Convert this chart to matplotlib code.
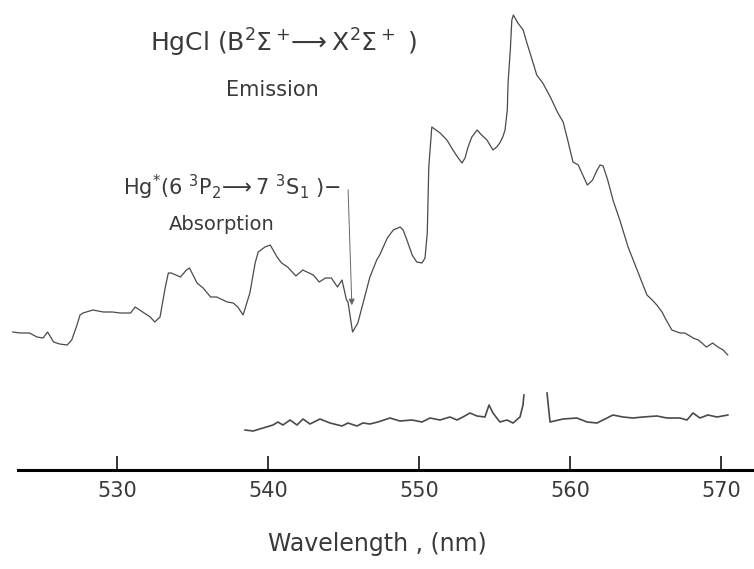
import matplotlib
matplotlib.use('Agg')
import matplotlib.pyplot as plt
import numpy as np

# HgCl B-X emission trace (wavelength nm, intensity arb. units)
em_wl = [523.1, 523.6, 524.2, 524.7, 525.1, 525.4, 525.8, 526.2, 526.7, 527.0,
         527.35, 527.55, 527.75, 528.4, 529.1, 529.7, 530.2, 530.9, 531.2, 531.7,
         532.2, 532.5, 532.85, 533.2, 533.4, 533.6, 534.2, 534.6, 534.8, 535.3,
         535.7, 536.2, 536.6, 537.3, 537.7, 538.0, 538.35, 538.8, 539.15, 539.35,
         539.8, 540.15, 540.6, 540.9, 541.3, 541.85, 542.3, 543.0, 543.4, 543.8,
         544.2, 544.6, 544.9, 545.2, 545.3, 545.6, 545.95, 546.3, 546.75, 547.2,
         547.4, 547.9, 548.3, 548.75, 548.95, 549.2, 549.55, 549.85, 550.2, 550.4,
         550.55, 550.65, 550.85, 551.4, 551.85, 552.25, 552.6, 552.85, 553.05, 553.25,
         553.5, 553.85, 554.15, 554.5, 554.7, 554.9, 555.15, 555.35, 555.55, 555.7,
         555.85, 555.9, 556.05, 556.15, 556.25, 556.55, 556.9, 557.15, 557.5, 557.8,
         558.2, 558.7, 559.2, 559.55, 559.85, 560.2, 560.55, 560.85, 561.15, 561.3,
         561.5, 561.8, 562.0, 562.2, 562.5, 562.85, 563.3, 563.85, 564.45, 565.1,
         565.45, 565.75, 566.1, 566.3, 566.75, 567.1, 567.3, 567.6, 567.95, 568.15,
         568.5, 568.75, 568.95, 569.05, 569.25, 569.45, 569.8, 570.15, 570.45]
em_int = [13.8, 13.7, 13.7, 13.3, 13.2, 13.8, 12.8, 12.6, 12.5, 13.0,
          14.5, 15.5, 15.7, 16.0, 15.8, 15.8, 15.7, 15.7, 16.3, 15.8,
          15.3, 14.8, 15.3, 18.3, 19.7, 19.7, 19.3, 20.0, 20.2, 18.7,
          18.2, 17.3, 17.3, 16.8, 16.7, 16.3, 15.5, 17.7, 20.7, 21.8,
          22.3, 22.5, 21.3, 20.7, 20.3, 19.4, 20.0, 19.5, 18.8, 19.2,
          19.2, 18.3, 19.0, 17.0, 16.8, 13.8, 14.7, 16.7, 19.3, 21.0,
          21.5, 23.2, 24.0, 24.3, 24.0, 23.0, 21.5, 20.8, 20.7, 21.2,
          23.7, 30.3, 34.3, 33.7, 33.0, 32.0, 31.2, 30.7, 31.2, 32.3,
          33.3, 34.0, 33.5, 33.0, 32.5, 32.0, 32.3, 32.7, 33.3, 34.0,
          36.0, 38.7, 42.0, 45.0, 45.5, 44.7, 44.0, 42.7, 41.0, 39.5,
          38.7, 37.3, 35.7, 34.8, 33.0, 30.8, 30.5, 29.5, 28.5, 28.7,
          29.0, 30.0, 30.5, 30.4, 29.0, 27.0, 25.0, 22.3, 20.0, 17.5,
          17.0, 16.5, 15.8, 15.2, 14.0, 13.8, 13.7, 13.7, 13.4, 13.2,
          13.0, 12.7, 12.4, 12.3, 12.5, 12.7, 12.3, 12.0, 11.5]

# lower trace, left part (up to the gap) and right part
bl1_wl = [538.48, 539.01, 539.67, 540.33, 540.66, 540.99, 541.46, 541.92, 542.32, 542.78,
          543.44, 544.11, 544.90, 545.30, 545.89, 546.29, 546.75, 547.28, 548.08, 548.74,
          549.54, 550.20, 550.73, 551.39, 552.05, 552.52, 552.91, 553.38, 553.84, 554.37,
          554.64, 554.90, 555.36, 555.83, 556.23, 556.69, 556.89, 556.95]
bl1_int = [4.0, 3.9, 4.2, 4.5, 4.8, 4.5, 5.0, 4.5, 5.1, 4.6,
           5.1, 4.7, 4.4, 4.7, 4.4, 4.7, 4.6, 4.8, 5.2, 4.9,
           5.0, 4.8, 5.2, 5.0, 5.3, 5.0, 5.3, 5.7, 5.4, 5.3,
           6.5, 5.7, 4.8, 5.0, 4.7, 5.3, 6.5, 7.5]
bl2_wl = [558.48, 558.68, 559.54, 560.46, 561.13, 561.79, 562.19, 562.85, 563.51, 564.17,
          564.83, 565.76, 566.42, 567.28, 567.75, 568.15, 568.61, 569.14, 569.74, 570.46]
bl2_int = [7.7, 4.8, 5.1, 5.2, 4.8, 4.7, 5.0, 5.5, 5.3, 5.2,
           5.3, 5.4, 5.2, 5.2, 5.0, 5.7, 5.2, 5.5, 5.3, 5.5]

ticks = [530, 540, 550, 560, 570]

ink = '#4a4a4a'
txt = '#3a3a3a'

fig = plt.figure(figsize=(7.54, 5.69), dpi=100)
ax = fig.add_axes([0, 0, 1, 1])

ax.plot(em_wl, em_int, color=ink, lw=0.9)
ax.plot(bl1_wl, bl1_int, color=ink, lw=1.2)
ax.plot(bl2_wl, bl2_int, color=ink, lw=1.2)

ax.set_xlim(522.25, 572.19)
ax.set_ylim(-9.9, 47.0)

for s in ['left', 'right', 'top']:
    ax.spines[s].set_visible(False)
ax.spines['bottom'].set_position(('data', 0))
ax.spines['bottom'].set_linewidth(2.2)
ax.spines['bottom'].set_bounds(523.44, 572.19)
ax.set_yticks([])
ax.set_xticks(ticks)
ax.set_xticklabels([str(t) for t in ticks])
ax.tick_params(axis='x', direction='in', length=10, width=1.1, pad=8,
               labelsize=15, labelcolor=txt)
ax.set_xlabel('Wavelength , (nm)', fontsize=17, color=txt, labelpad=22)

ax.text(541.0, 42.7, r'HgCl (B$^2\Sigma^+\!\!\longrightarrow$X$^2\Sigma^+$ )',
        fontsize=18, color=txt, ha='center', va='center')
ax.text(540.26, 38.0, 'Emission', fontsize=15, color=txt, ha='center', va='center')
ax.text(537.6, 28.3, r'Hg$^{*}$(6 $^3$P$_2\!\longrightarrow$7 $^3$S$_1$ )$-$',
        fontsize=15, color=txt, ha='center', va='center')
ax.text(536.95, 24.5, 'Absorption', fontsize=14, color=txt, ha='center', va='center')

ax.annotate('', xy=(545.56, 16.2), xytext=(545.30, 28.3),
            arrowprops=dict(arrowstyle='-|>', color='#666666', lw=0.7,
                            mutation_scale=9))

plt.savefig('out.png', dpi=100)
